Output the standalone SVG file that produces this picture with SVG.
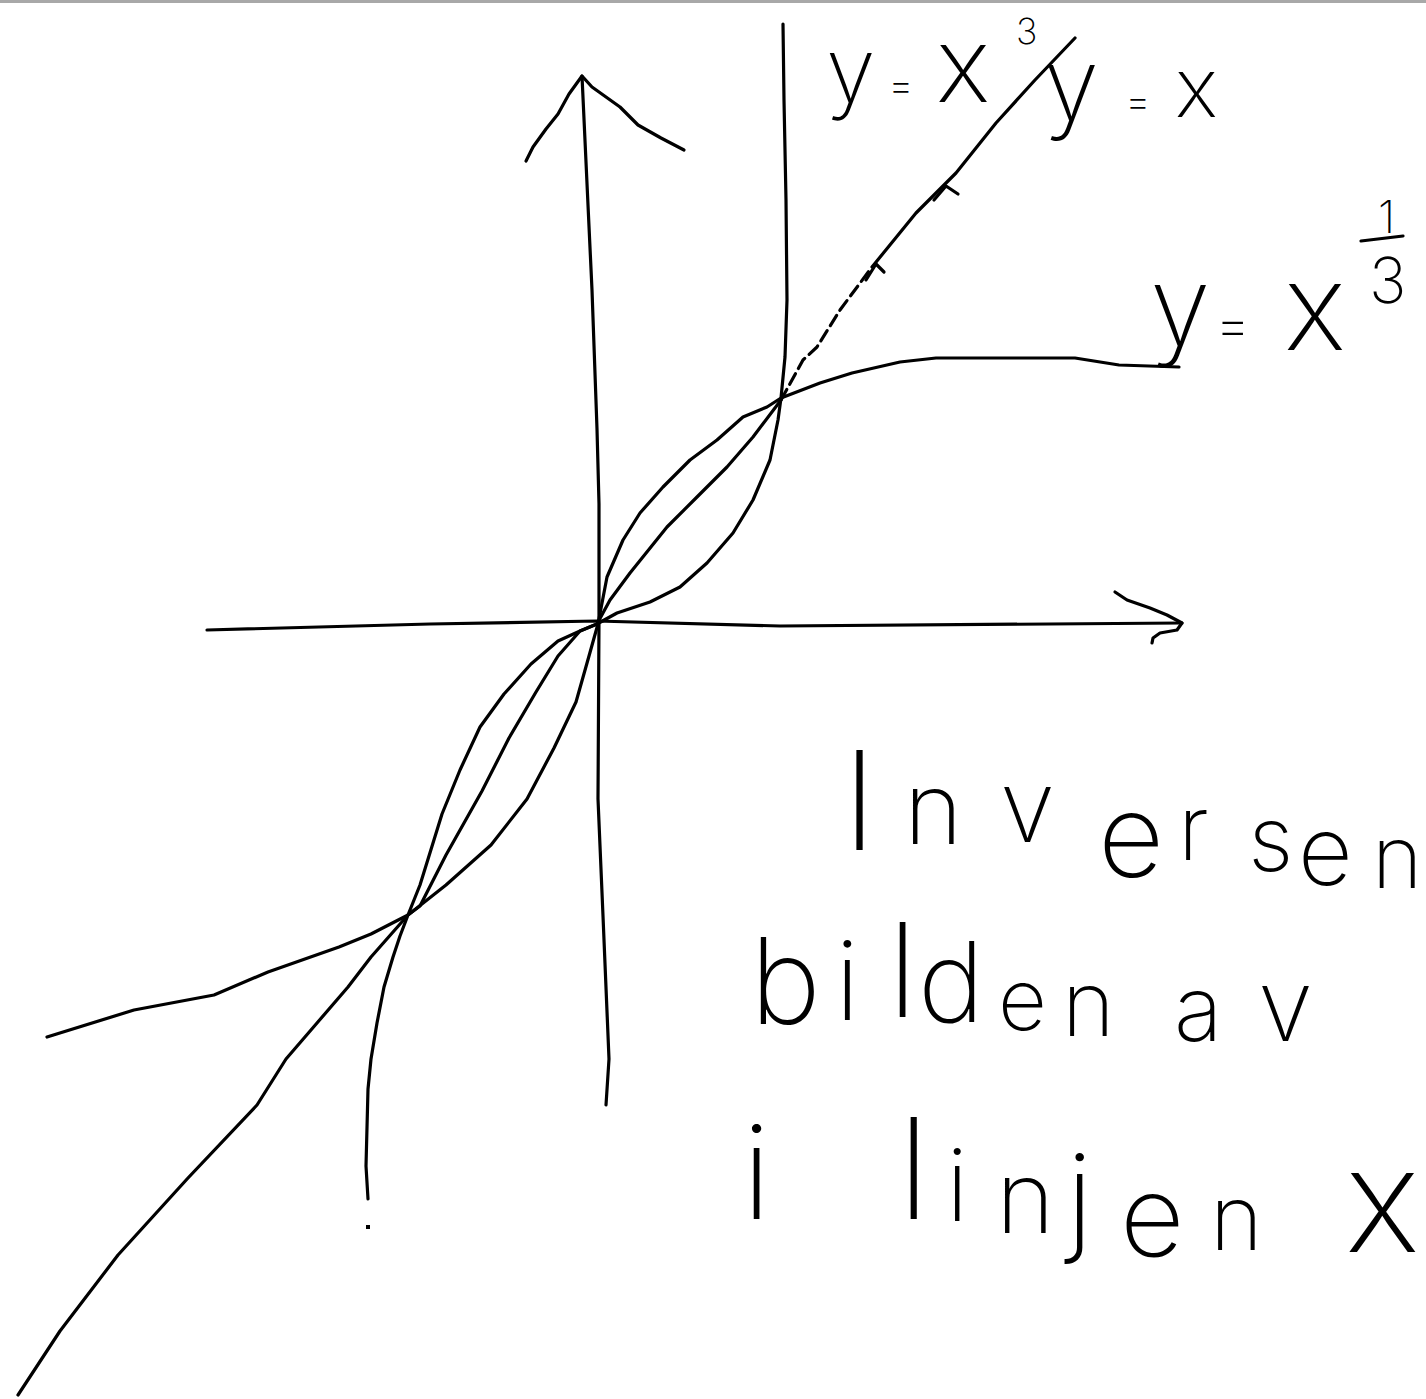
<svg xmlns="http://www.w3.org/2000/svg" width="1426" height="1399" viewBox="0 0 1426 1399">
<style>
.ln{fill:none;stroke:#000;stroke-width:3.2;stroke-linejoin:round;stroke-linecap:round}
.tx{font-family:Inter,Lato,"Liberation Sans",sans-serif;font-weight:200;fill:#000}
</style>
<rect x="0" y="0" width="1426" height="1399" fill="#fff"/>
<rect x="0" y="0" width="1426" height="3" fill="#a8a8a8"/>
<g id="axes">
<path class="ln" d="M207,630 L430,624 L597,621 L780,626 L1182,623"/>
<path class="ln" d="M1115,592 L1127,600 L1150,608 L1167,615 L1182,623 L1177,630 L1160,633 L1153,638 L1152,643"/>
<path class="ln" d="M582,76 L588,205 L592,290 L597,429 L599,504 L599,620 L598,799 L603,916 L609,1059 L606,1105"/>
<path class="ln" d="M526,161 L533,147 L546,129 L558,114 L569,94 L582,76 L592,87 L620,107 L638,125 L661,138 L684,150"/>
</g>
<g id="curves">
<path id="cube" class="ln" d="M368,1199 L366,1166 L368,1089 L371,1059 L377,1023 L384,987 L393,957 L400,936 L408,915 L420,885 L442,814 L460,770 L480,727 L504,694 L531,664 L558,641 L580,631 L597,624 L617,613 L650,602 L680,587 L707,563 L733,533 L753,500 L770,460 L778,420 L781,398 L785,357 L787,300 L786,200 L784,100 L783,24"/>
<rect x="366" y="1225" width="4" height="4" fill="#000"/>
<path id="cbrt" class="ln" d="M47,1037 L134,1010 L214,995 L268,972 L339,947 L371,934 L408,915 L446,885 L491,845 L527,799 L554,748 L576,702 L589,656 L596,631 L598,624 L607,577 L623,540 L640,513 L663,487 L690,460 L717,440 L743,417 L767,407 L781,398 L820,383 L852,373 L900,362 L936,358 L1075,358 L1119,365 L1179,367"/>
<path id="ident" class="ln" d="M18,1395 L60,1331 L118,1255 L188,1178 L257,1105 L286,1059 L317,1023 L348,987 L371,957 L408,915 L420,906 L446,855 L482,791 L509,738 L536,692 L558,656 L580,631 L597,624 L610,600 L630,573 L667,527 L697,497 L727,467 L753,437 L781,400"/>
<path class="ln" stroke-dasharray="12 6" d="M781,400 L803,360 L817,347 L840,310 L872,267"/>
<path class="ln" d="M872,267 L916,213 L956,173 L996,123 L1035,80 L1075,38"/>
<path class="ln" d="M866,280 L876,264 L884,272"/>
<path class="ln" d="M934,200 L946,186 L958,194"/>
</g>
<g id="label-cube">
<text class="tx"><tspan x="826" y="102" font-size="90">y</tspan><tspan x="888" y="99" font-size="40">=</tspan><tspan x="936" y="102" font-size="105">x</tspan><tspan x="1016" y="44" font-size="36">3</tspan></text>
</g>
<g id="label-ident">
<text class="tx"><tspan x="1044" y="120" font-size="100">y</tspan><tspan x="1125" y="115" font-size="40">=</tspan><tspan x="1175" y="117" font-size="83">x</tspan></text>
</g>
<g id="label-cbrt">
<text class="tx"><tspan x="1150" y="345" font-size="110">y</tspan><tspan x="1215" y="344" font-size="55">=</tspan><tspan x="1284" y="350" font-size="120">x</tspan><tspan x="1378" y="233" font-size="45">1</tspan><tspan x="1369" y="303" font-size="63">3</tspan></text>
<path class="ln" d="M1361,241 L1403,236"/>
</g>
<g id="note">
<text class="tx"><tspan x="842" y="850" font-size="137">I</tspan><tspan x="904" y="844" font-size="100">n</tspan><tspan x="1000" y="842" font-size="100">v</tspan><tspan x="1098" y="877" font-size="115">e</tspan><tspan x="1178" y="860" font-size="90">r</tspan><tspan x="1248" y="871" font-size="90">s</tspan><tspan x="1298" y="885" font-size="95">e</tspan><tspan x="1372" y="888" font-size="86">n</tspan></text>
<text class="tx"><tspan x="750" y="1024" font-size="120">b</tspan><tspan x="835" y="1020" font-size="110">i</tspan><tspan x="888" y="1017" font-size="130">l</tspan><tspan x="918" y="1022" font-size="112">d</tspan><tspan x="998" y="1030" font-size="85">e</tspan><tspan x="1062" y="1036" font-size="90">n</tspan><tspan x="1120" y="1036" font-size="90"> </tspan><tspan x="1174" y="1041" font-size="90">a</tspan><tspan x="1258" y="1041" font-size="100">v</tspan></text>
<text class="tx"><tspan x="742" y="1219" font-size="130">i</tspan><tspan x="800" y="1219" font-size="130"> </tspan><tspan x="898" y="1219" font-size="140">l</tspan><tspan x="946" y="1221" font-size="100">i</tspan><tspan x="996" y="1233" font-size="100">n</tspan><tspan x="1066" y="1240" font-size="120">j</tspan><tspan x="1120" y="1256" font-size="112">e</tspan><tspan x="1210" y="1250" font-size="90">n</tspan><tspan x="1270" y="1250" font-size="90"> </tspan><tspan x="1345" y="1252" font-size="145">x</tspan></text>
</g>
</svg>
